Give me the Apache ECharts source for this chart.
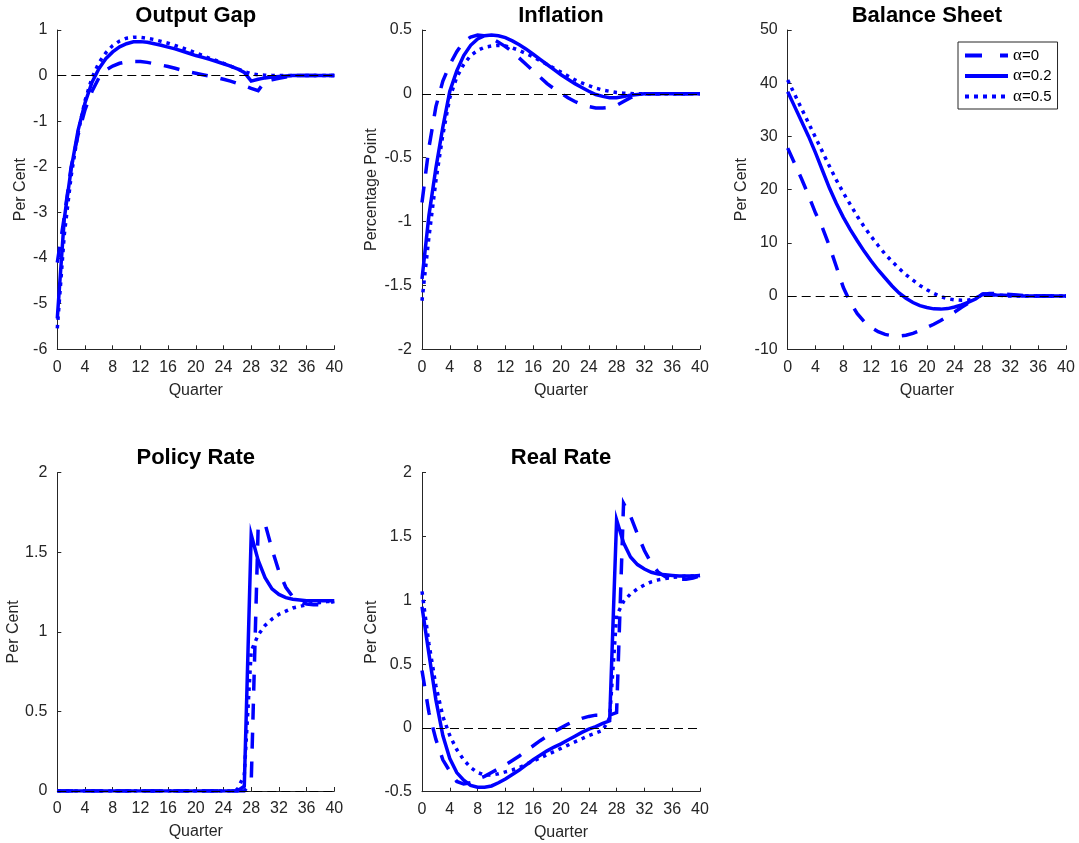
<!DOCTYPE html>
<html>
<head>
<meta charset="utf-8">
<script src="https://cdn.jsdelivr.net/npm/echarts@6/dist/echarts.min.js"></script>
<style>
html,body{margin:0;padding:0;background:#fff;}
#chart{width:1079px;height:843px;}
</style>
</head>
<body>
<div id="chart"></div>
<script>
// ---------------- DATA ----------------
const quarters = [0,1,2,3,4,5,6,7,8,9,10,11,12,13,14,15,16,17,18,19,20,21,22,23,24,25,26,27,28,29,30,31,32,33,34,35,36,37,38,39,40];
const seriesNames = ['α=0', 'α=0.2', 'α=0.5'];
const panelTitles = ['Output Gap', 'Inflation', 'Balance Sheet', 'Policy Rate', 'Real Rate'];
const yAxisNames = ['Per Cent', 'Percentage Point', 'Per Cent', 'Per Cent', 'Per Cent'];
const xAxisName = 'Quarter';
// y ranges [min, max, interval]
const yRanges = [[-6, 1, 1], [-2, 0.5, 0.5], [-10, 50, 10], [0, 2, 0.5], [-0.5, 2, 0.5]];

const outputGapA0  = [-4.1,-3.1,-2.0,-1.3,-0.75,-0.35,-0.05,0.12,0.21,0.27,0.3,0.31,0.31,0.29,0.26,0.23,0.2,0.16,0.12,0.08,0.05,0.02,-0.01,-0.04,-0.08,-0.12,-0.17,-0.22,-0.28,-0.33,-0.12,-0.09,-0.06,-0.03,-0.01,0,0,0,0,0,0];
const outputGapA02 = [-5.32,-3.15,-2.05,-1.2,-0.6,-0.15,0.15,0.37,0.52,0.63,0.7,0.74,0.745,0.73,0.7,0.665,0.625,0.585,0.54,0.49,0.44,0.4,0.355,0.31,0.26,0.21,0.15,0.07,-0.12,-0.08,-0.05,-0.03,-0.02,-0.01,0,0,0,0,0,0,0];
const outputGapA05 = [-5.54,-3.5,-2.2,-1.25,-0.55,-0.05,0.28,0.5,0.66,0.76,0.82,0.84,0.84,0.82,0.79,0.75,0.71,0.66,0.61,0.56,0.5,0.44,0.38,0.33,0.27,0.21,0.15,0.09,0.04,0.02,0.01,0.005,0,0,0,0,0,0,0,0,0];

const inflationA0  = [-0.85,-0.42,-0.1,0.1,0.23,0.33,0.41,0.445,0.46,0.455,0.435,0.405,0.37,0.33,0.28,0.23,0.18,0.13,0.08,0.04,0.005,-0.03,-0.06,-0.085,-0.1,-0.11,-0.11,-0.105,-0.09,-0.06,-0.03,-0.01,0,0,0,0,0,0,0,0,0];
const inflationA02 = [-1.45,-0.95,-0.58,-0.26,0.02,0.18,0.3,0.38,0.43,0.455,0.46,0.455,0.44,0.415,0.385,0.35,0.31,0.27,0.23,0.19,0.15,0.115,0.08,0.05,0.02,-0.005,-0.02,-0.03,-0.03,-0.02,-0.01,-0.005,0,0,0,0,0,0,0,0,0];
const inflationA05 = [-1.62,-1.12,-0.68,-0.32,-0.03,0.13,0.23,0.3,0.34,0.365,0.375,0.38,0.375,0.36,0.34,0.315,0.29,0.26,0.23,0.2,0.17,0.14,0.11,0.085,0.065,0.045,0.03,0.02,0.01,0.005,0.002,0,0,0,0,0,0,0,0,0,0];

const balanceA0  = [27.8,24.9,22.0,18.9,15.6,12.8,9.4,5.5,1.6,-1.2,-3.3,-4.8,-5.9,-6.7,-7.2,-7.45,-7.5,-7.35,-7.0,-6.5,-5.9,-5.3,-4.6,-3.8,-3.0,-2.1,-1.3,-0.5,0.3,0.5,0.5,0.4,0.3,0.2,0.1,0.05,0,0,0,0,0];
const balanceA02 = [38.4,35.6,32.8,30.0,26.9,23.6,20.3,17.4,14.8,12.5,10.4,8.4,6.6,4.9,3.4,1.9,0.6,-0.4,-1.2,-1.8,-2.15,-2.4,-2.45,-2.35,-2.05,-1.65,-1.15,-0.55,0.4,0.3,0.2,0.15,0.1,0.05,0,0,0,0,0,0,0];
const balanceA05 = [40.6,37.9,35.2,32.5,29.8,27.1,24.4,21.8,19.4,17.2,15.0,13.0,11.2,9.5,7.9,6.5,5.2,4.0,3.0,2.0,1.2,0.5,-0.1,-0.5,-0.7,-0.8,-0.75,-0.4,0.4,0.3,0.2,0.1,0,0,0,0,0,0,0,0,0];

const policyA0  = [0,0,0,0,0,0,0,0,0,0,0,0,0,0,0,0,0,0,0,0,0,0,0,0,0,0,0,0,0.05,1.65,1.68,1.52,1.38,1.28,1.22,1.19,1.175,1.17,1.17,1.18,1.19];
const policyA02 = [0,0,0,0,0,0,0,0,0,0,0,0,0,0,0,0,0,0,0,0,0,0,0,0,0,0,0,0.03,1.61,1.45,1.34,1.27,1.235,1.215,1.205,1.2,1.195,1.195,1.195,1.195,1.195];
const policyA05 = [0,0,0,0,0,0,0,0,0,0,0,0,0,0,0,0,0,0,0,0,0,0,0,0,0,0,0.01,0.1,0.88,0.98,1.04,1.08,1.11,1.13,1.15,1.16,1.17,1.18,1.185,1.19,1.19];

const realA0  = [0.45,0.12,-0.09,-0.25,-0.34,-0.42,-0.44,-0.43,-0.4,-0.38,-0.35,-0.32,-0.29,-0.255,-0.22,-0.18,-0.14,-0.1,-0.065,-0.03,0.0,0.03,0.055,0.075,0.09,0.1,0.1,0.1,0.12,1.76,1.66,1.52,1.39,1.29,1.22,1.185,1.17,1.165,1.165,1.175,1.19];
const realA02 = [0.95,0.58,0.22,-0.06,-0.24,-0.35,-0.41,-0.45,-0.465,-0.465,-0.455,-0.43,-0.4,-0.365,-0.33,-0.29,-0.25,-0.215,-0.18,-0.15,-0.125,-0.095,-0.065,-0.035,-0.01,0.01,0.035,0.055,1.63,1.45,1.34,1.28,1.245,1.22,1.205,1.2,1.195,1.19,1.19,1.19,1.195];
const realA05 = [1.07,0.66,0.33,0.09,-0.06,-0.17,-0.25,-0.31,-0.35,-0.37,-0.37,-0.36,-0.345,-0.33,-0.31,-0.285,-0.26,-0.235,-0.21,-0.185,-0.16,-0.135,-0.11,-0.085,-0.06,-0.04,-0.02,0.08,0.88,0.99,1.05,1.09,1.12,1.145,1.16,1.17,1.18,1.185,1.19,1.19,1.195];

const panelData = [
  [outputGapA0, outputGapA02, outputGapA05],
  [inflationA0, inflationA02, inflationA05],
  [balanceA0, balanceA02, balanceA05],
  [policyA0, policyA02, policyA05],
  [realA0, realA02, realA05]
];

// ---------------- LAYOUT / STYLE ----------------
const grids = [
  {left: 57.3, top: 30, width: 277, height: 319.3},
  {left: 422, top: 30, width: 278, height: 319.3},
  {left: 787.7, top: 30, width: 278.3, height: 319.3},
  {left: 57.3, top: 472.7, width: 277, height: 318.3},
  {left: 422, top: 472.7, width: 278, height: 319}
];
const yNameGaps = [29, 42, 38, 34.5, 42];
const titleTops = [5, 5, 5, 447, 447];
const axisColor = '#262626';
const lineColor = '#0000ff';
const lineWidth = 3.5;
const lineTypes = [[16, 13], 'solid', [3.5, 5]];
const legendLineTypes = [[17, 18], 'solid', [4, 5]];
const font = 'Liberation Sans, Arial, Helvetica, sans-serif';
const transparent = 'rgba(0,0,0,0)';

const option = {
  animation: false,
  backgroundColor: '#ffffff',
  title: panelTitles.map((t, i) => ({
    text: t,
    left: grids[i].left + grids[i].width / 2,
    top: titleTops[i],
    textAlign: 'center',
    padding: 0,
    textStyle: {fontFamily: font, fontSize: 22, fontWeight: 'bold', color: '#000'}
  })),
  grid: grids.map(g => Object.assign({containLabel: false}, g)),
  legend: {
    data: seriesNames.map((n, k) => ({
      name: n,
      lineStyle: {width: 4, type: legendLineTypes[k], color: lineColor, cap: 'butt'}
    })),
    orient: 'vertical',
    left: 958,
    top: 42,
    padding: [5, 6, 4, 5],
    itemWidth: 43,
    itemHeight: 14,
    itemGap: 3.5,
    borderColor: axisColor,
    borderWidth: 1,
    backgroundColor: '#fff',
    itemStyle: {color: transparent, borderWidth: 0, opacity: 0},
    lineStyle: {width: 4},
    formatter: name => '{g|α}{t|' + name.slice(1) + '}',
    textStyle: {
      fontFamily: font, fontSize: 15, color: '#000',
      rich: {
        g: {fontFamily: 'Liberation Serif, DejaVu Serif, serif', fontSize: 17, color: '#000', lineHeight: 15},
        t: {fontFamily: font, fontSize: 15, color: '#000', lineHeight: 15}
      }
    }
  },
  xAxis: grids.map((g, i) => ({
    type: 'value', gridIndex: i, min: 0, max: 40, interval: 4,
    name: xAxisName, nameLocation: 'middle', nameGap: 33,
    nameTextStyle: {fontFamily: font, fontSize: 16, color: axisColor},
    axisLine: {show: true, onZero: false, lineStyle: {color: axisColor, width: 1}},
    axisTick: {show: true, inside: true, length: 4, lineStyle: {color: axisColor}},
    axisLabel: {fontFamily: font, fontSize: 16, color: axisColor, margin: 10},
    splitLine: {show: false}
  })),
  yAxis: grids.map((g, i) => ({
    type: 'value', gridIndex: i,
    min: yRanges[i][0], max: yRanges[i][1], interval: yRanges[i][2],
    name: yAxisNames[i], nameLocation: 'middle', nameGap: yNameGaps[i],
    nameTextStyle: {fontFamily: font, fontSize: 16, color: axisColor},
    axisLine: {show: true, onZero: false, lineStyle: {color: axisColor, width: 1}},
    axisTick: {show: true, inside: true, length: 4, lineStyle: {color: axisColor}},
    axisLabel: {fontFamily: font, fontSize: 16, color: axisColor, margin: 10},
    splitLine: {show: false}
  })),
  series: []
};

panelData.forEach((arrs, p) => {
  arrs.forEach((arr, k) => {
    const s = {
      name: seriesNames[k],
      type: 'line',
      xAxisIndex: p, yAxisIndex: p,
      data: quarters.map((q, j) => [q, arr[j]]),
      symbol: 'none',
      showSymbol: false,
      smooth: false,
      lineStyle: {color: lineColor, width: lineWidth, type: lineTypes[k], cap: 'butt', join: 'miter'},
      itemStyle: {color: transparent},
      z: 2 + k
    };
    if (k === 2) {
      s.markLine = {
        silent: true,
        symbol: ['none', 'none'],
        label: {show: false},
        lineStyle: {color: '#000', width: 1, type: [9, 5]},
        data: [{yAxis: 0}],
        animation: false
      };
    }
    option.series.push(s);
  });
});

const chart = echarts.init(document.getElementById('chart'), null, {renderer: 'canvas'});
chart.setOption(option);
</script>
</body>
</html>
